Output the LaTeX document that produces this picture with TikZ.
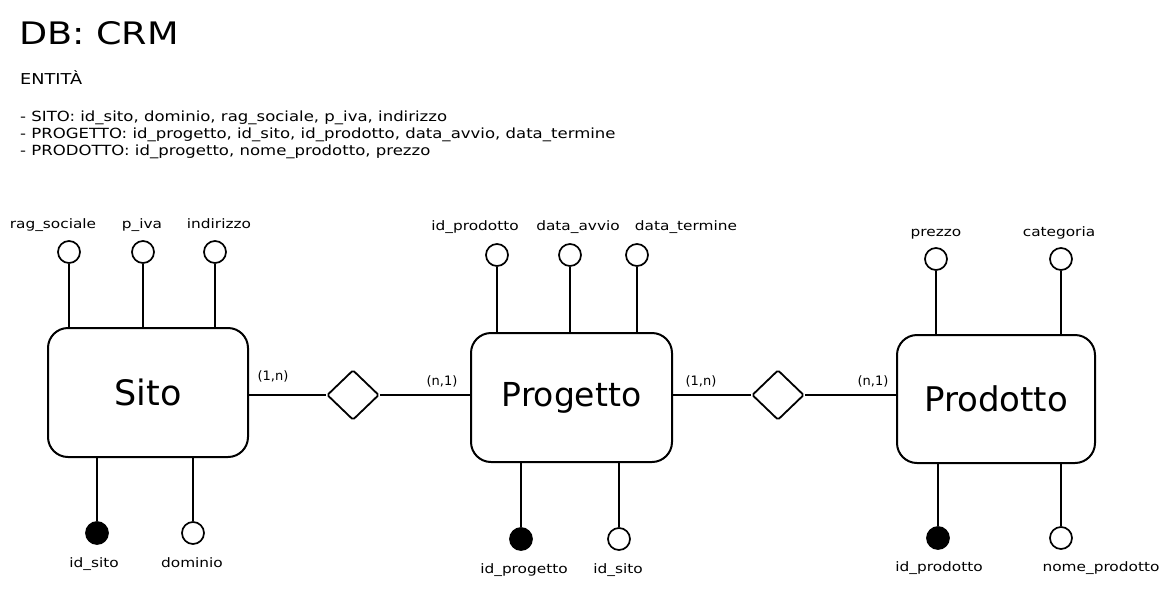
\documentclass[tikz,border=0pt]{standalone}
\usepackage{fontspec}
\setmainfont{DejaVu Sans}
\newfontfamily\widefont{DejaVu Sans}[FakeStretch=1.18]
\usetikzlibrary{shapes.geometric}

\tikzset{
  entity/.style={draw, line width=2pt, rounded corners=20pt, inner sep=0pt},
  rel/.style={draw, diamond, line width=1.8pt, rounded corners=1.5pt, minimum width=52pt, minimum height=50pt, inner sep=0pt, fill=white},
  attr/.style={draw, circle, line width=1.7pt, minimum size=22pt, inner sep=0pt},
  lbl/.style={anchor=base, inner sep=0pt, font=\widefont\fontsize{13}{15}\selectfont},
  card/.style={anchor=base, inner sep=0pt, font=\fontsize{13}{15}\selectfont},
  link/.style={line width=2.2pt}
}

\begin{document}
\begin{tikzpicture}[x=1pt, y=-1pt]
\useasboundingbox (0,0) rectangle (1171,590);

\node[anchor=base west, inner sep=0pt, font=\widefont\fontsize{31}{36}\selectfont] (title) at (19,44) {DB: CRM};
\node[anchor=base west, inner sep=0pt, font=\widefont\fontsize{15}{18}\selectfont] (entita) at (20,84) {ENTITÀ};
\node[anchor=north west, inner sep=0pt, align=left, font=\widefont\fontsize{14}{16.8}\selectfont] (elenco) at (20,111) {%
- SITO: id\_sito, dominio, rag\_sociale, p\_iva, indirizzo\\
- PROGETTO: id\_progetto, id\_sito, id\_prodotto, data\_avvio, data\_termine\\
- PRODOTTO: id\_progetto, nome\_prodotto, prezzo};

% entita
\node[entity, minimum width=200pt, minimum height=129pt, font=\fontsize{35}{38}\selectfont] (sito) at (148,392.5) {Sito};
\node[entity, minimum width=201pt, minimum height=129pt, font=\fontsize{33}{38}\selectfont] (prog) at (571.5,397.5) {Progetto};
\node[entity, minimum width=198pt, minimum height=128pt, font=\fontsize{34}{38}\selectfont] (prod) at (996,399) {Prodotto};

% relazioni
\node[rel] (r1) at (353,395) {};
\node[rel] (r2) at (778,395) {};
\draw[link] (sito.east |- r1) -- (r1);
\draw[link] (r1) -- (r1 -| prog.west);
\draw[link] (prog.east |- r2) -- (r2);
\draw[link] (r2) -- (r2 -| prod.west);
\node[card] (c1) at (273,380) {(1,n)};
\node[card] (c2) at (442,385) {(n,1)};
\node[card] (c3) at (701,385) {(1,n)};
\node[card] (c4) at (873,385) {(n,1)};

% attributi sito
\foreach \n/\x/\lx/\t in {a/69/53/rag\_sociale, b/143/142/p\_iva, c/215/219/indirizzo} {
  \node[attr] (sito-\n) at (\x,252) {};
  \draw[link] (sito-\n) -- (sito-\n |- sito.north);
  \node[lbl] (sito-\n-txt) at (\lx,228) {\t};
}
\foreach \n/\x/\lx/\f/\t in {d/97/94/black/id\_sito, e/193/192/white/dominio} {
  \node[attr, fill=\f] (sito-\n) at (\x,533) {};
  \draw[link] (sito-\n) -- (sito-\n |- sito.south);
  \node[lbl] (sito-\n-txt) at (\lx,567) {\t};
}

% attributi progetto
\foreach \n/\x/\lx/\t in {a/497/475/id\_prodotto, b/570/578/data\_avvio, c/637/686/data\_termine} {
  \node[attr] (prog-\n) at (\x,255) {};
  \draw[link] (prog-\n) -- (prog-\n |- prog.north);
  \node[lbl] (prog-\n-txt) at (\lx,230) {\t};
}
\foreach \n/\x/\lx/\f/\t in {d/521/524/black/id\_progetto, e/619/618/white/id\_sito} {
  \node[attr, fill=\f] (prog-\n) at (\x,539) {};
  \draw[link] (prog-\n) -- (prog-\n |- prog.south);
  \node[lbl] (prog-\n-txt) at (\lx,573) {\t};
}

% attributi prodotto
\foreach \n/\x/\lx/\t in {a/936/936/prezzo, b/1061/1059/categoria} {
  \node[attr] (prod-\n) at (\x,259) {};
  \draw[link] (prod-\n) -- (prod-\n |- prod.north);
  \node[lbl] (prod-\n-txt) at (\lx,236) {\t};
}
\foreach \n/\x/\lx/\f/\t in {d/938/939/black/id\_prodotto, e/1061/1101/white/nome\_prodotto} {
  \node[attr, fill=\f] (prod-\n) at (\x,538) {};
  \draw[link] (prod-\n) -- (prod-\n |- prod.south);
  \node[lbl] (prod-\n-txt) at (\lx,571) {\t};
}
\end{tikzpicture}
\end{document}
